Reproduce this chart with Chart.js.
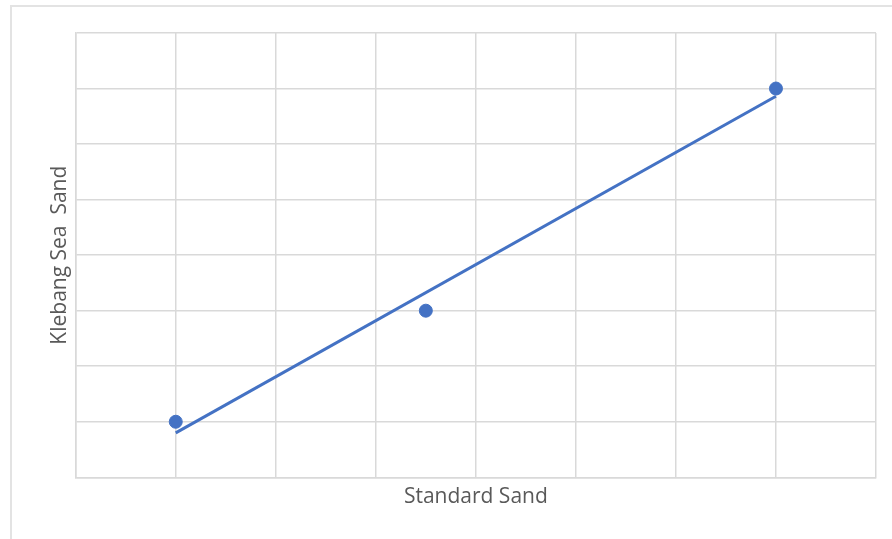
<!DOCTYPE html>
<html>
<head>
<meta charset="utf-8">
<script src="https://cdn.jsdelivr.net/npm/chart.js@4"></script>
<style>
  html, body { margin: 0; padding: 0; background: #ffffff; }
  #wrap { position: relative; width: 892px; height: 539px; overflow: hidden; }
  #frame { position: absolute; left: 10px; top: 5px; width: 900px; height: 560px; border: 2px solid #e3e3e3; box-sizing: border-box; pointer-events: none; }
  canvas { position: absolute; left: 0; top: 0; }
</style>
</head>
<body>
<div id="wrap">
  <div id="frame"></div>
  <canvas id="c" width="892" height="539"></canvas>
</div>
<script>
// Data
const xTitle = "Standard Sand";
const yTitle = "Klebang Sea  Sand";
const standardSand = [1, 3.5, 7];
const klebangSeaSand = [1, 3, 7];
// trend line end points
const trendX = [1, 7];
const trendY = [0.8, 6.86];

const pointData = standardSand.map((x, i) => ({ x: x, y: klebangSeaSand[i] }));
const trendData = trendX.map((x, i) => ({ x: x, y: trendY[i] }));

const gridColor = "#d9d9d9";
const textColor = "#595959";
const blue = "#4472C4";

new Chart(document.getElementById("c"), {
  type: "scatter",
  data: {
    datasets: [
      {
        label: "Trend",
        data: trendData,
        showLine: true,
        borderColor: blue,
        borderWidth: 3,
        pointRadius: 0,
        fill: false,
        order: 2
      },
      {
        label: "Data",
        data: pointData,
        backgroundColor: blue,
        borderColor: blue,
        pointRadius: 6.5,
        pointHoverRadius: 6.5,
        showLine: false,
        order: 1
      }
    ]
  },
  options: {
    responsive: false,
    animation: false,
    devicePixelRatio: 1,
    layout: { padding: { left: 43, top: 33, right: 16, bottom: 29 } },
    plugins: { legend: { display: false }, tooltip: { enabled: false } },
    scales: {
      x: {
        type: "linear",
        min: 0, max: 8,
        ticks: { display: false, stepSize: 1 },
        grid: { color: gridColor, lineWidth: 1.5, drawTicks: false },
        border: { display: true, color: gridColor, width: 1.5 },
        title: {
          display: true, text: xTitle, color: textColor,
          font: { family: "Open Sans", size: 21 },
          padding: { top: 7.5, bottom: 0 }
        }
      },
      y: {
        type: "linear",
        min: 0, max: 8,
        ticks: { display: false, stepSize: 1 },
        grid: { color: gridColor, lineWidth: 1.5, drawTicks: false },
        border: { display: true, color: gridColor, width: 1.5 },
        title: {
          display: true, text: yTitle, color: textColor,
          font: { family: "Open Sans", size: 21 },
          padding: { top: 4, bottom: 3.5 }
        }
      }
    }
  }
});
</script>
</body>
</html>
